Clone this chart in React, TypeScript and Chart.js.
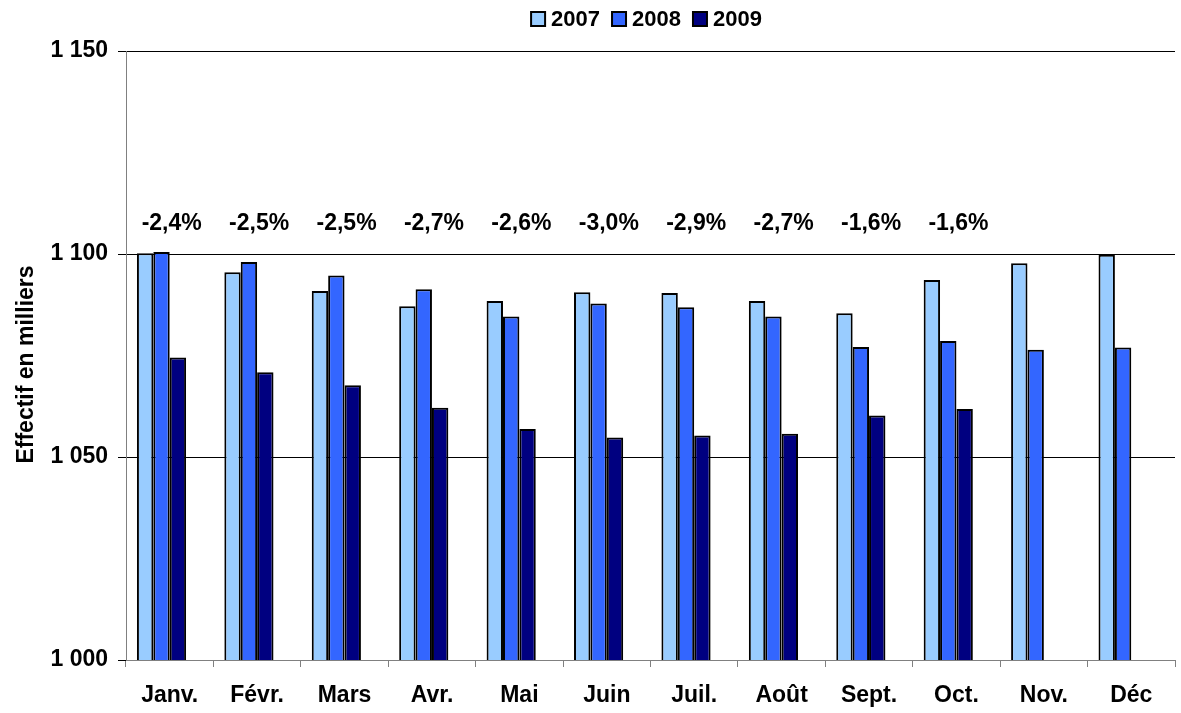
import React, { useEffect, useRef } from "react";
import { Chart, registerables } from "chart.js";

Chart.register(...registerables);

const months = ["Janv.", "Févr.", "Mars", "Avr.", "Mai", "Juin", "Juil.", "Août", "Sept.", "Oct.", "Nov.", "Déc"];
const series2007 = [1100.2, 1095.5, 1090.9, 1087.1, 1088.4, 1090.6, 1090.4, 1088.4, 1085.4, 1093.6, 1097.7, 1099.8];
const series2008 = [1100.5, 1098.0, 1094.7, 1091.3, 1084.6, 1087.8, 1086.9, 1084.6, 1077.1, 1078.6, 1076.4, 1077.0];
const series2009 = [1074.5, 1070.9, 1067.7, 1062.1, 1056.9, 1054.8, 1055.3, 1055.7, 1060.2, 1061.8, null, null];
const changeLabels = ["-2,4%", "-2,5%", "-2,5%", "-2,7%", "-2,6%", "-3,0%", "-2,9%", "-2,7%", "-1,6%", "-1,6%", null, null];
const labelLevel = 1107.5;
const yTicks = [1000, 1050, 1100, 1150];
const yTitle = "Effectif en milliers";

const FONT = "'Liberation Sans', Arial, sans-serif";

const fmt = (v: number) => `${Math.floor(v / 1000)} ${String(v % 1000).padStart(3, "0")}`;

export default function App() {
  const ref = useRef<HTMLCanvasElement>(null);
  useEffect(() => {
    if (!ref.current) return;
    const colors = ["#99CCFF", "#3366FF", "#000080"];
    const names = ["2007", "2008", "2009"];
    const extras = {
      id: "extras",
      afterDraw(chart: any) {
        const ctx = chart.ctx;
        const xs = chart.scales.x;
        const ys = chart.scales.y;
        const area = chart.chartArea;
        ctx.save();
        // percent labels
        ctx.font = `bold 23px ${FONT}`;
        ctx.fillStyle = "#000";
        ctx.textAlign = "center";
        ctx.textBaseline = "middle";
        changeLabels.forEach((l, i) => {
          if (!l) return;
          ctx.fillText(l, xs.getPixelForValue(i) + 2, ys.getPixelForValue(labelLevel));
        });
        // y title
        ctx.save();
        ctx.translate(27, (area.top + area.bottom) / 2 + 9);
        ctx.rotate(-Math.PI / 2);
        ctx.font = `bold 23px ${FONT}`;
        ctx.fillText(yTitle, 0, 0);
        ctx.restore();
        // legend
        ctx.font = `bold 22px ${FONT}`;
        ctx.textAlign = "left";
        const box = 14, gap1 = 6, gap2 = 12;
        const widths = names.map((n) => ctx.measureText(n).width);
        const total = widths.reduce((a, w) => a + box + gap1 + w, 0) + gap2 * (names.length - 1);
        let x = (area.left + area.right) / 2 - total / 2 - 4;
        const cy = 19;
        names.forEach((n, i) => {
          ctx.fillStyle = colors[i];
          ctx.fillRect(x, cy - box / 2, box, box);
          ctx.strokeStyle = "#000";
          ctx.lineWidth = 2;
          ctx.strokeRect(x, cy - box / 2, box, box);
          ctx.fillStyle = "#000";
          ctx.fillText(n, x + box + gap1, cy + 1);
          x += box + gap1 + widths[i] + gap2;
        });
        ctx.restore();
      },
    };
    const chart = new Chart(ref.current, {
      type: "bar",
      data: {
        labels: months,
        datasets: [
          { label: "2007", data: series2007, backgroundColor: colors[0], borderColor: "#000", borderWidth: 2 },
          { label: "2008", data: series2008, backgroundColor: colors[1], borderColor: "#000", borderWidth: 2 },
          { label: "2009", data: series2009, backgroundColor: colors[2], borderColor: "#000", borderWidth: 2 },
          { label: "", data: months.map(() => null), backgroundColor: "rgba(0,0,0,0)", borderWidth: 0 },
        ],
      } as any,
      options: {
        animation: false,
        responsive: false,
        devicePixelRatio: 1,
        layout: { padding: { top: 51, right: 6, left: 0, bottom: 0 } },
        plugins: { legend: { display: false }, tooltip: { enabled: false } },
        datasets: { bar: { categoryPercentage: 0.75, barPercentage: 1 } },
        scales: {
          x: {
            grid: { display: true, drawOnChartArea: false, offset: true, color: "#808080", tickLength: 7, lineWidth: 1 },
            border: { color: "#808080", width: 1 },
            ticks: { color: "#000", font: { family: FONT, size: 23, weight: "bold" }, padding: 15, maxRotation: 0 },
            afterFit: (s: any) => { s.height = 53; },
          },
          y: {
            min: 1000,
            max: 1150,
            afterBuildTicks: (s: any) => { s.ticks = yTicks.map((v) => ({ value: v })); },
            grid: {
              color: (c: any) => (c.tick && c.tick.value === 1000 ? "#808080" : "#000"),
              tickColor: "#000",
              tickLength: 8,
              lineWidth: 1,
            },
            border: { color: "#808080", width: 1 },
            ticks: { color: "#000", font: { family: FONT, size: 23, weight: "bold" }, padding: 10, callback: (v: any) => fmt(Number(v)) },
            afterFit: (s: any) => { s.width = 126; },
          },
        },
      } as any,
      plugins: [extras],
    });
    return () => chart.destroy();
  }, []);
  return (
    <div style={{ position: "fixed", left: 0, top: 0, width: 1181, height: 713, background: "#fff" }}>
      <canvas ref={ref} width={1181} height={713} style={{ width: 1181, height: 713 }} />
    </div>
  );
}
